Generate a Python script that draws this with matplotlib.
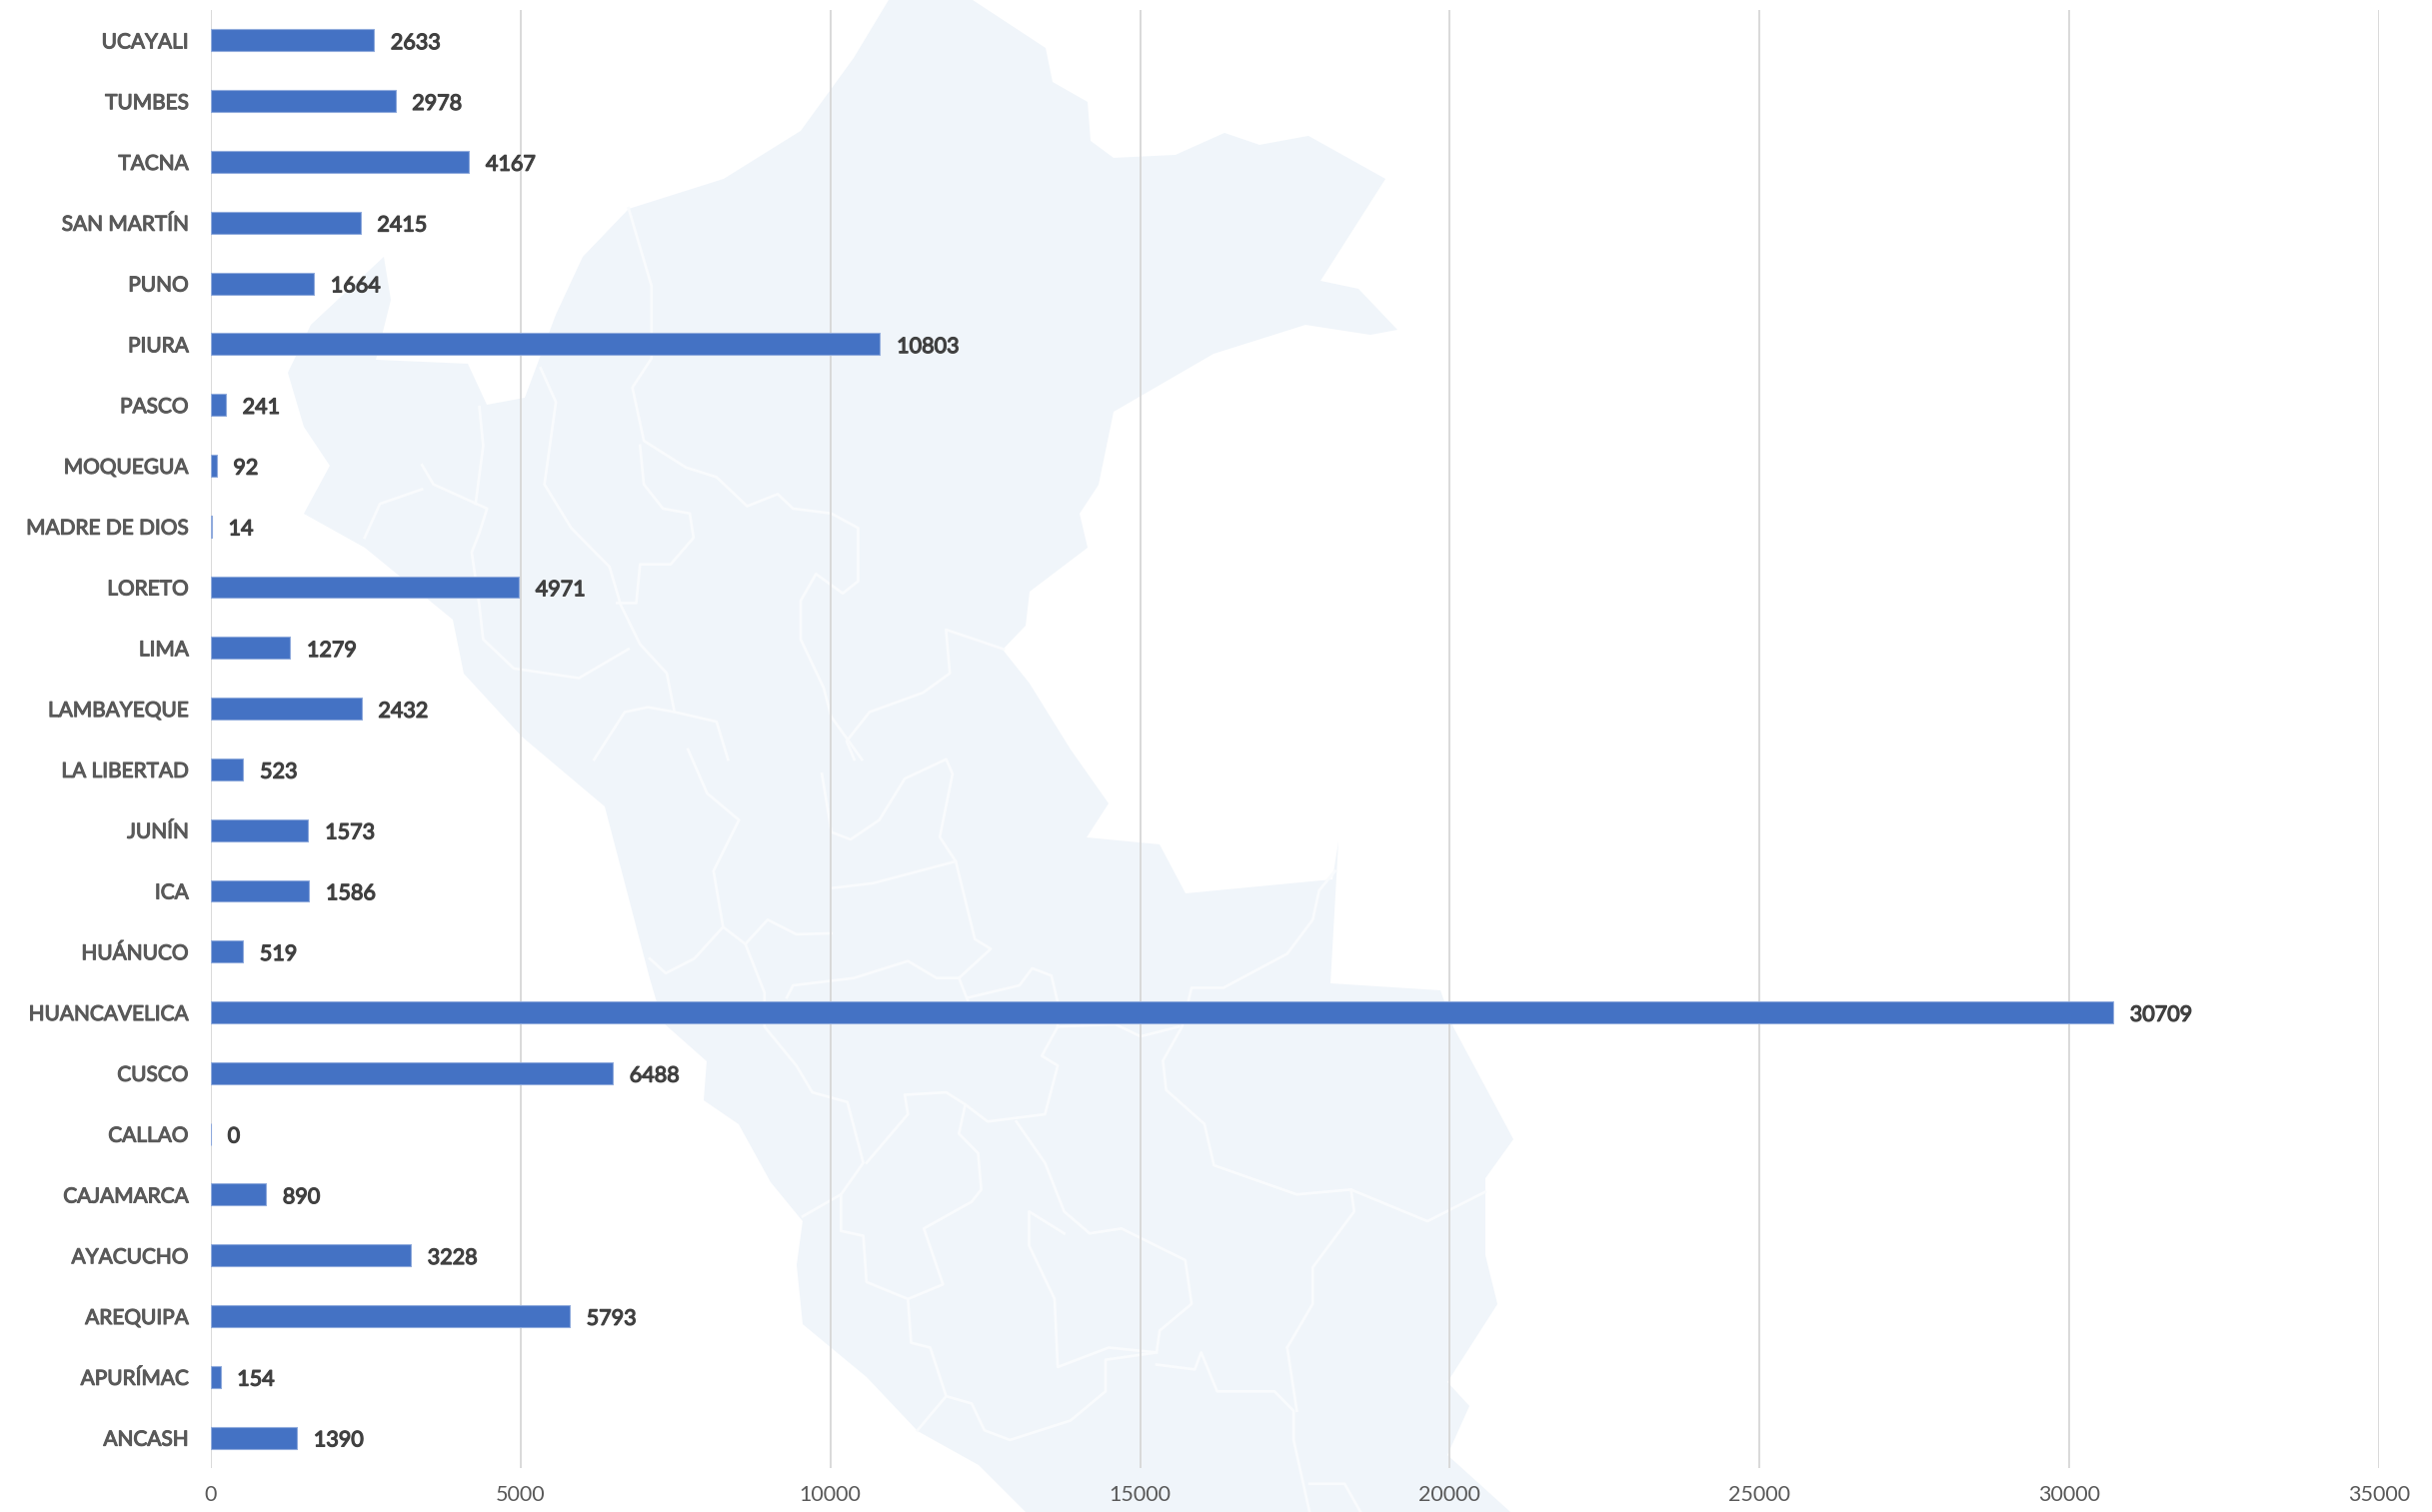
import matplotlib
matplotlib.use("Agg")
import matplotlib.pyplot as plt
import matplotlib.patheffects as pe
from matplotlib.patches import Polygon
from matplotlib.lines import Line2D

W = 2433
H = 1513

regiones = ["ANCASH", "APURÍMAC", "AREQUIPA", "AYACUCHO", "CAJAMARCA", "CALLAO",
            "CUSCO", "HUANCAVELICA", "HUÁNUCO", "ICA", "JUNÍN", "LA LIBERTAD",
            "LAMBAYEQUE", "LIMA", "LORETO", "MADRE DE DIOS", "MOQUEGUA", "PASCO",
            "PIURA", "PUNO", "SAN MARTÍN", "TACNA", "TUMBES", "UCAYALI"]
valores = [1390, 154, 5793, 3228, 890, 0, 6488, 30709, 519, 1586, 1573, 523,
           2432, 1279, 4971, 14, 92, 241, 10803, 1664, 2415, 4167, 2978, 2633]
x_ticks = [0, 5000, 10000, 15000, 20000, 25000, 30000, 35000]

# background map of Peru, in pixels of the picture
mapa = [(889, 0), (973, 0), (1046, 48), (1053, 82), (1088, 102), (1091, 141), (1114, 158),
        (1176, 155), (1225, 133), (1260, 145), (1309, 136), (1386, 179), (1321, 281),
        (1359, 289), (1398, 330), (1371, 335), (1306, 325), (1214, 354), (1114, 412),
        (1099, 485), (1080, 514), (1088, 548), (1030, 592), (1026, 626), (1003, 650),
        (1030, 684), (1071, 750), (1109, 804), (1087, 838), (1160, 845), (1186, 894),
        (1333, 880), (1339, 842), (1331, 984), (1441, 991), (1454, 1028), (1514, 1140),
        (1486, 1179), (1486, 1256), (1498, 1305), (1448, 1383), (1470, 1407), (1448, 1456),
        (1511, 1513), (1026, 1513), (979, 1466), (918, 1432), (867, 1378), (803, 1325),
        (797, 1266), (803, 1222), (771, 1183), (739, 1125), (704, 1101), (707, 1062),
        (663, 1023), (650, 979), (605, 807), (522, 737), (464, 674), (453, 620),
        (365, 548), (304, 514), (330, 466), (304, 427), (288, 373), (311, 325),
        (384, 257), (391, 300), (376, 360), (468, 364), (487, 405), (525, 398),
        (556, 315), (583, 257), (629, 209), (724, 179), (801, 131), (854, 58)]

limites_norte = [
    [(495, 430), (525, 590), (525, 740), (500, 800), (515, 910), (570, 965), (610, 985),
     (650, 1045), (690, 1020), (710, 1050), (760, 1060), (795, 1090), (795, 1200),
     (775, 1225), (740, 1185), (720, 1240), (720, 1320), (750, 1420), (760, 1480), (800, 1568)],
    [(380, 760), (400, 830), (385, 1000), (420, 1090), (470, 1170), (485, 1250), (510, 1330),
     (545, 1390), (555, 1470), (610, 1490), (625, 1568)],
    [(510, 920), (515, 1000), (540, 1050), (575, 1060), (580, 1110), (550, 1165), (510, 1165),
     (505, 1245), (480, 1245)],
    [(225, 960), (240, 1000), (310, 1050), (300, 1100), (290, 1140), (300, 1250), (305, 1320),
     (345, 1380), (430, 1400), (495, 1340)],
    [(150, 1110), (170, 1040), (225, 1010)],
    [(300, 840), (305, 920), (295, 1040)],
    [(450, 1568), (490, 1470), (520, 1460), (555, 1470)],
    [(985, 1340), (910, 1300), (915, 1390), (880, 1430), (810, 1470), (780, 1530), (790, 1568)],
]
limites_sur = [
    [(60, 0), (90, 90), (140, 145), (100, 250), (115, 365), (150, 400), (180, 500), (180, 570),
     (230, 650), (255, 705), (310, 725), (335, 850), (300, 915), (240, 960)],
    [(115, 365), (70, 430), (25, 460), (0, 430)],
    [(150, 400), (185, 350), (230, 380), (285, 378)],
    [(270, 50), (285, 170), (315, 185), (360, 145), (400, 60), (465, 20), (475, 50), (455, 180),
     (480, 230), (510, 390), (535, 410), (485, 470), (500, 520)],
    [(285, 285), (350, 275), (480, 230)],
    [(215, 510), (225, 485), (320, 470), (405, 435), (450, 470), (485, 470)],
    [(500, 510), (580, 485), (600, 450), (630, 465), (640, 520), (640, 570), (615, 630),
     (640, 650), (620, 750), (530, 765), (495, 730), (465, 705), (400, 710), (405, 750), (340, 850)],
    [(495, 730), (485, 790), (515, 830), (520, 905), (505, 930), (430, 985), (460, 1100),
     (405, 1130), (340, 1095), (335, 1000), (300, 990), (300, 915)],
    [(575, 765), (620, 850), (650, 950), (690, 995), (740, 985), (840, 1050), (850, 1140),
     (800, 1195), (795, 1240), (720, 1230), (640, 1270), (635, 1130), (595, 1020), (595, 950),
     (650, 995)],
    [(795, 1265), (855, 1275), (865, 1240), (890, 1320), (980, 1320), (1010, 1360),
     (1010, 1420), (1035, 1568)],
    [(1000, 1230), (1015, 1360)],
    [(405, 1130), (410, 1220), (440, 1230), (465, 1330), (420, 1400)],
    [(465, 1330), (505, 1345), (525, 1400), (565, 1420), (660, 1380), (715, 1320), (715, 1255),
     (795, 1240)],
    [(1000, 1230), (1040, 1140), (1040, 1065), (1105, 950), (1100, 905), (1220, 970), (1310, 910)],
    [(1100, 905), (1015, 915), (885, 855), (870, 770), (810, 700), (805, 640), (835, 570),
     (850, 490), (900, 490), (1000, 420), (1040, 350), (1050, 290), (1075, 250)],
    [(640, 570), (730, 565), (770, 590), (830, 570)],
    [(1035, 1510), (1090, 1510), (1115, 1568)],
]

fig = plt.figure(figsize=(W / 100, H / 100), dpi=100, facecolor="white")
plt.rcParams["font.family"] = ["Lato", "DejaVu Sans"]

def to_fig(p):
    return (p[0] / W, 1 - p[1] / H)

def dibuja_limite(pts):
    pts = [to_fig(p) for p in pts]
    fig.add_artist(Line2D([p[0] for p in pts], [p[1] for p in pts], transform=fig.transFigure,
                          color="#f9fbfd", lw=2.0, zorder=0.5, solid_joinstyle="round"))

fig.add_artist(Polygon([to_fig(p) for p in mapa], closed=True, transform=fig.transFigure,
                       facecolor="#f0f5fa", edgecolor="none", zorder=0))
for lim in limites_norte:
    dibuja_limite([(250 + x * 1200 / 1568, y * 760 / 1568) for x, y in lim])
for lim in limites_sur:
    dibuja_limite([(650 + x * 1000 / 1568, 750 + y * 763 / 1568) for x, y in lim])

ax = fig.add_axes([211 / W, 44 / H, 2169 / W, 1459 / H])
ax.patch.set_alpha(0)
ax.set_zorder(2)

ax.barh(range(len(regiones)), valores, height=0.36, color="#4472c4", edgecolor="#8faadc",
        linewidth=0.8, zorder=3)
for i, v in enumerate(valores):
    ax.annotate(str(v), (v, i), xytext=(12, -2), textcoords="offset points", va="center",
                ha="left", fontsize=15.5, color="#404040", zorder=4,
                path_effects=[pe.withStroke(linewidth=0.9, foreground="#404040")])

ax.set_xlim(0, 35000)
ax.set_ylim(-0.5, len(regiones) - 0.5)
ax.set_xticks(x_ticks)
ax.set_yticks(range(len(regiones)))
ax.set_yticklabels(regiones, fontsize=15, color="#595959")
for t in ax.get_yticklabels():
    t.set_path_effects([pe.withStroke(linewidth=0.8, foreground="#595959")])
ax.tick_params(axis="y", length=0, pad=16)
ax.tick_params(axis="x", length=0, pad=12, labelsize=15.5, labelcolor="#595959")
ax.grid(axis="x", color="#d9d9d9", lw=1.4, zorder=1)
ax.set_axisbelow(True)
for s in ax.spines.values():
    s.set_visible(False)

fig.savefig("out.png", dpi=100)
